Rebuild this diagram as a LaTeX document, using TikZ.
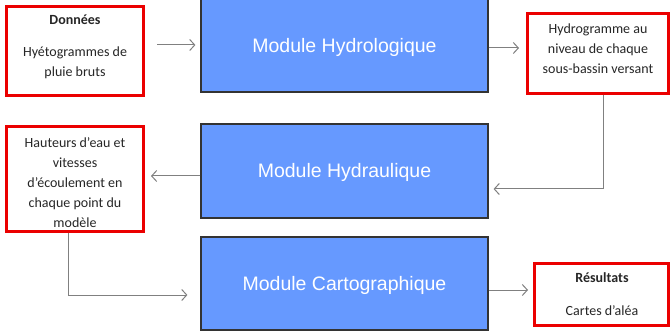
\documentclass[tikz,border=0pt]{standalone}
\usepackage{fontspec}
\setmainfont{Carlito}
\newfontfamily\arialf{Liberation Sans}
\usetikzlibrary{arrows.meta}
\definecolor{modblue}{RGB}{102,153,255}
\definecolor{boxred}{RGB}{235,0,0}
\definecolor{conngray}{RGB}{128,128,128}
\begin{document}
\begin{tikzpicture}[x=1pt,y=-1pt,
 modbox/.style={draw=black!80, line width=1.2pt, fill=modblue, inner sep=0pt, minimum width=287pt},
 redbox/.style={draw=boxred, line width=3pt, fill=white, inner sep=0pt},
 redtext/.style={align=center, text=black!85, font=\fontsize{14}{20}\selectfont, inner sep=0pt},
 modtext/.style={text=white, font=\arialf\fontsize{19.5}{22}\selectfont, inner sep=0pt},
 conn/.style={draw=conngray, line width=1pt, -{Straight Barb[length=5pt,width=11pt]}}]
\useasboundingbox[fill=white] (0,0) rectangle (672,331);

% module boxes
\node[modbox, minimum height=94pt] (hydro) at (344.5,45) {};
\node[modtext] (hydrotxt) at (344.5,47) {Module Hydrologique};
\node[modbox, minimum height=94pt] (hydr) at (344.5,171) {};
\node[modtext] (hydrtxt) at (344.5,172) {Module Hydraulique};
\node[modbox, minimum height=93pt] (carto) at (344.5,283.5) {};
\node[modtext] (cartotxt) at (344.5,285) {Module Cartographique};

% red boxes
\node[redbox, minimum width=137pt, minimum height=89pt] (don) at (75,51) {};
\node[redtext] (dontxt1) at (75,20) {\textbf{Données}};
\node[redtext] (dontxt2) at (75,63) {Hyétogrammes de\\pluie bruts};

\node[redbox, minimum width=141pt, minimum height=80pt] (hg) at (598,53.5) {};
\node[redtext] (hgtxt) at (598,48.5) {Hydrogramme au\\niveau de chaque\\sous-bassin versant};

\node[redbox, minimum width=137pt, minimum height=105pt] (haut) at (75,179) {};
\node[redtext] (hauttxt) at (75,182.5) {Hauteurs d’eau et\\vitesses\\d’écoulement en\\chaque point du\\modèle};

\node[redbox, minimum width=134pt, minimum height=62pt] (res) at (601.5,294.5) {};
\node[redtext] (restxt1) at (602,278) {\textbf{Résultats}};
\node[redtext] (restxt2) at (602,311) {Cartes d’aléa};

% connectors
\draw[conn, shorten <=12pt, shorten >=5pt] (don.east |- hydro.west) -- (hydro.west);
\draw[conn, shorten >=7pt] ([yshift=-3pt]hydro.east) -- ([yshift=-3pt]hydro.east -| hg.west);
\draw[conn, shorten >=5pt] ([xshift=5.5pt]hg.south) |- ([yshift=-18pt]hydr.east);
\draw[conn, shorten >=6pt] ([yshift=-5pt]hydr.west) -- ([yshift=-5pt]hydr.west -| haut.east);
\draw[conn, shorten >=13pt] ([xshift=-7pt]haut.south) |- ([yshift=-11.5pt]carto.west);
\draw[conn, shorten >=5pt] ([yshift=-6.5pt]carto.east) -- ([yshift=-6.5pt]carto.east -| res.west);
\end{tikzpicture}
\end{document}
